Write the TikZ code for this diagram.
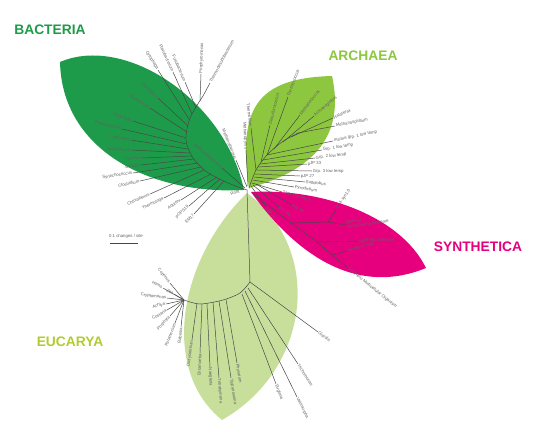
\documentclass[tikz,border=0pt]{standalone}
\usepackage{fontspec}
\setmainfont{Liberation Sans}
\definecolor{bactcol}{HTML}{1E9B4A}
\definecolor{archcol}{HTML}{8DC63F}
\definecolor{syncol}{HTML}{E6007E}
\definecolor{eucol}{HTML}{C8DF9C}
\definecolor{eutitle}{HTML}{B3CB2E}
\newcounter{lf}
\newcommand\br[4]{\stepcounter{lf}\draw[branch] (#1) -- (#2) node[lab#3] (lf\arabic{lf}) {#4};}
\begin{document}
\begin{tikzpicture}[x=1pt,y=-1pt,
  branch/.style={draw=black!72, line width=0.5pt},
  labfont/.style={inner sep=0.6pt, font=\fontsize{4.3}{4.8}\selectfont, text=black!62},
  labL/.style={labfont, pos=1, sloped, anchor=east},
  labR/.style={labfont, pos=1, sloped, anchor=west},
  title/.style={font=\bfseries\fontsize{13.8}{14}\selectfont}]
\useasboundingbox (0,0) rectangle (550,440);
% leaves
\fill[bactcol] (60,62) .. controls (125,34) and (225,100) .. (244,190)
   .. controls (150,195) and (62,150) .. (60,62) -- cycle;
\fill[eucol] (247,193) .. controls (178,260) and (160,370) .. (222,420)
   .. controls (310,370) and (325,250) .. (247,193) -- cycle;
\fill[archcol] (249,188) .. controls (238,110) and (255,78) .. (332,76)
   .. controls (345,135) and (315,170) .. (249,188) -- cycle;
\fill[syncol] (251,192) .. controls (320,188) and (400,215) .. (426,268)
   .. controls (360,295) and (300,260) .. (251,192) -- cycle;
% titles
\node[title, text=bactcol] (tb) at (50,30) {BACTERIA};
\node[title, text=archcol] (ta) at (363,56) {ARCHAEA};
\node[title, text=syncol] (ts) at (478,247) {SYNTHETICA};
\node[title, text=eutitle] (te) at (70,342) {EUCARYA};
% root
\coordinate (root) at (247,190);
\node[labfont, rotate=20, anchor=east] (rootlab) at (240,191) {Root};
% ---------------- Bacteria
\draw[branch] plot[smooth] coordinates {(root) (228,183) (207,172) (193,158) (186,140) (190,118) (203,96)};
\br{203,96}{210,83}{R}{Thermodesulfobacterium}
\br{200,101}{201,74}{R}{Porphyromonas}
\br{196,108}{185,82}{L}{Fusobacterium}
\br{192,114}{173,72}{L}{Flavobacterium}
\br{189.5,120}{158,70}{L}{Cytophaga}
\br{188,126}{158,98}{L}{Chlorobium}
\br{187,132}{150,108}{L}{Bacteroides}
\br{186,138}{133,121}{L}{Chlamydia}
\br{186.5,144}{122,129}{L}{Planctomyces}
\br{188,149}{131,140}{L}{Leptospira}
\br{190,153}{132,150}{L}{Deinococcus}
\br{192,156}{142,158}{L}{Thermus}
\br{194,159}{141,165}{L}{Bacillus}
\br{198,163}{133,173}{L}{Synechococcus}
\br{201,167}{140,181}{L}{Clostridium}
\br{204,170}{150,194}{L}{Chloroflexus}
\br{211,174}{164,198}{L}{Thermotoga}
\br{217,177}{181,200}{L}{Aquifex}
\br{220,179}{189,206}{L}{pOPS19}
\br{224,181}{194,214}{L}{EM17}
% ---------------- Archaea
\draw[branch] plot[smooth] coordinates {(249,188) (256,170) (267,155) (282,142) (298,133)};
\br{256,170}{251,128}{L}{Thermofilum}
\br{261,162}{270,125}{R}{Desulfurococcus}
\br{267,155}{288,97}{R}{Thermococcus}
\br{274,149}{300,115}{R}{Methanococcus}
\br{283,142}{314,116}{R}{Archaeoglobus}
\br{291,137}{333,118}{R}{Haloferax}
\br{298,133}{335,126}{R}{Methanospirillum}
\br{267,155}{333,141}{R}{marine grp. 1 low temp}
\br{263,160}{322,150}{R}{Grp. 1 low temp}
\br{260,164}{315,158}{R}{Grp. 2 low temp}
\br{258,167}{307,164}{R}{pJP 33}
\br{257,170}{312,171}{R}{Grp. 3 low temp}
\br{255,174}{300,176}{R}{pJP 27}
\br{254,177}{305,182}{R}{Sulfolobus}
\br{253,180}{294,187}{R}{Pyrodictium}
\br{252,183}{282,192}{R}{Thermoproteus}
\br{251,186}{266,207}{R}{pJP 78}
\br{253,185}{279,207}{R}{pJP 96}
\br{256,184}{292,205}{R}{EM 19}
\br{248,186}{246,150}{L}{Methanopyrus}
\br{247,187}{236,160}{L}{Methanothermus}
\br{245,188}{222,168}{L}{Methanobacterium}
% ---------------- Synthetica
\coordinate (s1) at (291,223);
\coordinate (sj) at (328,222);
\coordinate (s2) at (317,242);
\coordinate (s3) at (332,255);
\draw[branch] (252,193) -- (s1) -- (s2) -- (s3) -- (348,268) node[labR] (smo) {Synthetic Multicellular Organism};
\draw[branch] (s1) -- (sj);
\br{sj}{336,210}{R}{JCVI-syn1.0}
\draw[branch] (sj) -- (346,225) coordinate (sk);
\node[labfont, rotate=8, anchor=west, align=left] (smin) at (sk) {Minimal\\Mycoplasma Genome};
\br{s2}{358,241}{R}{Synthetic Genome}
\br{s3}{347,251}{R}{Synthetic Cell}
% ---------------- Eucarya
\coordinate (e0) at (250,282);
\coordinate (ef) at (184,300);
\draw[branch] (root) -- (e0);
\draw[branch] plot[smooth] coordinates {(e0) (240,293) (223,300) (200,304) (ef)};
\br{e0}{318,332}{R}{Giardia}
\br{248,288}{298,364}{R}{Trichomonas}
\br{245,291}{297,397}{R}{Vairimorpha}
\br{242,294}{276,384}{R}{Euglena}
\br{226,299.5}{237,363}{R}{Physarum}
\br{219,301}{231,378}{R}{Trypanosoma}
\br{213,302}{219,378}{R}{Tetrahymena}
\br{207,303.5}{210,367}{R}{Naegleria}
\br{202,304}{200,353}{L}{Entamoeba}
\br{197,303}{192,340}{L}{Dictyostelium}
\br{ef}{170,283}{L}{Coprinus}
\br{ef}{163,288}{L}{Homo}
\br{ef}{174,294}{L}{Zea}
\br{ef}{167,298}{L}{Cryptomonas}
\br{ef}{166,304}{L}{Achlya}
\br{ef}{167,310}{L}{Costaria}
\br{ef}{170,316}{L}{Porphyra}
\br{ef}{175,323}{L}{Paramecium}
\br{ef}{181,327}{L}{Babesia}
% scale
\node[labfont] (scl) at (126,236) {0.1 changes / site};
\coordinate (sa) at (110,243);
\coordinate (sb) at (138,243);
\draw[branch] (sa) -- (sb);
\end{tikzpicture}
\end{document}
